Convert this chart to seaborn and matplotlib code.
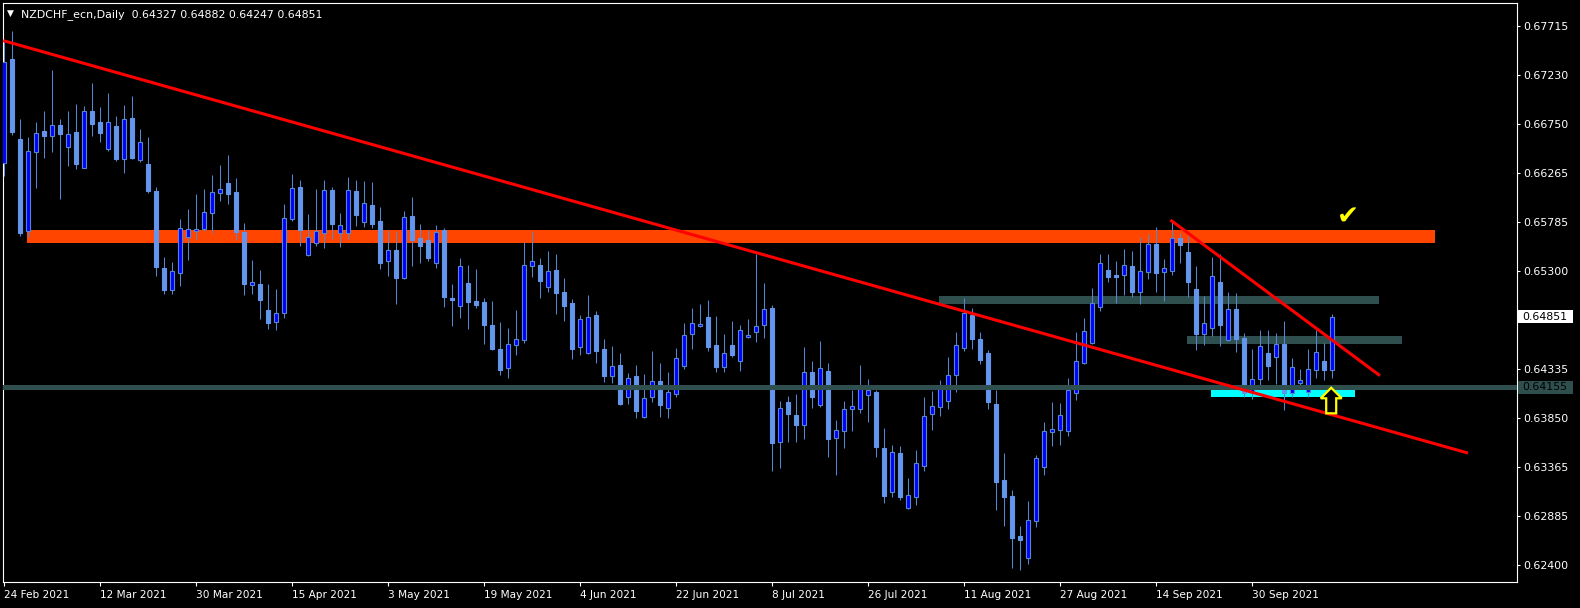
import numpy as np
import pandas as pd
import matplotlib
matplotlib.use("Agg")
import matplotlib.pyplot as plt
import matplotlib.transforms as mtransforms
from matplotlib.patches import Rectangle, Polygon
import seaborn as sns

# ---------------- data ----------------
symbol = "NZDCHF_ecn,Daily"

opens = [0.66363, 0.67388, 0.66603, 0.65698, 0.66477, 0.66681, 0.66635, 0.66738, 0.66527, 0.66671,
         0.66320, 0.66879, 0.66770, 0.66507, 0.66731, 0.66402, 0.66810, 0.66398, 0.66356, 0.66090,
         0.65331, 0.65117, 0.65284, 0.65633, 0.65698, 0.65718, 0.65876, 0.66073, 0.66169, 0.66080,
         0.65686, 0.65166, 0.65173, 0.64916, 0.64801, 0.64884, 0.65817, 0.66129, 0.65462, 0.65580,
         0.65679, 0.66100, 0.65679, 0.65673, 0.66090, 0.65787, 0.65952, 0.65794, 0.65403, 0.65508,
         0.65232, 0.65843, 0.65626, 0.65607, 0.65380, 0.65705, 0.65035, 0.64959, 0.65183, 0.65005,
         0.64995, 0.64769, 0.64532, 0.64345, 0.64574, 0.64621, 0.65350, 0.65360, 0.65140, 0.65311,
         0.65094, 0.64985, 0.64549, 0.64495, 0.64867, 0.64532, 0.64269, 0.64374, 0.64056, 0.64266,
         0.63858, 0.64056, 0.64216, 0.63947, 0.64091, 0.64367, 0.64677, 0.64762, 0.64844, 0.64568,
         0.64351, 0.64568, 0.64411, 0.64653, 0.64697, 0.64766, 0.64933, 0.63618, 0.64009, 0.63881,
         0.63785, 0.64305, 0.63983, 0.64315, 0.63657, 0.63726, 0.63943, 0.63943, 0.64081, 0.64108,
         0.63556, 0.63122, 0.63506, 0.62964, 0.63073, 0.63378, 0.63891, 0.63963, 0.64022, 0.64279,
         0.64545, 0.64867, 0.64630, 0.64492, 0.63990, 0.63240, 0.63082, 0.62688, 0.62471, 0.62836,
         0.63368, 0.63717, 0.63733, 0.63723, 0.64101, 0.64391, 0.64594, 0.64943, 0.65311, 0.65259,
         0.65259, 0.65350, 0.65097, 0.65294, 0.65567, 0.65288, 0.65304, 0.65626, 0.65488, 0.65123,
         0.64683, 0.64742, 0.65193, 0.64618, 0.64926, 0.64640, 0.64111, 0.64233, 0.64489, 0.64450,
         0.64581, 0.64095, 0.64194, 0.64105, 0.64322, 0.64411, 0.64327]

highs = [0.67559, 0.67667, 0.66800, 0.66625, 0.66770, 0.66879, 0.67283, 0.66800, 0.66879, 0.66948,
         0.66928, 0.67155, 0.66918, 0.67056, 0.66826, 0.66938, 0.67026, 0.66701, 0.66622, 0.66129,
         0.65439, 0.65390, 0.65814, 0.65912, 0.66060, 0.66109, 0.66248, 0.66346, 0.66445, 0.66218,
         0.65774, 0.65409, 0.65311, 0.65173, 0.65123, 0.65962, 0.66257, 0.66198, 0.65863, 0.66109,
         0.66198, 0.66129, 0.65873, 0.66228, 0.66198, 0.66188, 0.66178, 0.65932, 0.65702, 0.65692,
         0.65893, 0.66031, 0.65764, 0.65705, 0.65755, 0.65725, 0.65173, 0.65429, 0.65360, 0.65321,
         0.65035, 0.65005, 0.64798, 0.64739, 0.64916, 0.65587, 0.65695, 0.65429, 0.65498, 0.65469,
         0.65232, 0.65025, 0.64867, 0.65064, 0.64907, 0.64630, 0.64561, 0.64492, 0.64295, 0.64374,
         0.64286, 0.64512, 0.64394, 0.64305, 0.64542, 0.64788, 0.64936, 0.64976, 0.65015, 0.64857,
         0.64680, 0.64808, 0.64769, 0.64828, 0.65469, 0.65183, 0.64963, 0.64019, 0.64068, 0.64088,
         0.64552, 0.64414, 0.64611, 0.64394, 0.63832, 0.64019, 0.64128, 0.64374, 0.64236, 0.64128,
         0.63753, 0.63585, 0.63575, 0.63260, 0.63536, 0.64059, 0.64118, 0.64226, 0.64453, 0.64700,
         0.65035, 0.64936, 0.64700, 0.64522, 0.64128, 0.63506, 0.63142, 0.62787, 0.63033, 0.63487,
         0.63812, 0.64009, 0.63999, 0.64246, 0.64700, 0.64838, 0.65133, 0.65469, 0.65469, 0.65400,
         0.65518, 0.65498, 0.65636, 0.65666, 0.65735, 0.65419, 0.65794, 0.65676, 0.65646, 0.65350,
         0.65055, 0.65439, 0.65469, 0.65094, 0.65084, 0.64687, 0.64532, 0.64719, 0.64719, 0.64687,
         0.64808, 0.64446, 0.64335, 0.64532, 0.64719, 0.64588, 0.64882]

lows = [0.66238, 0.66642, 0.65646, 0.65639, 0.66122, 0.66418, 0.66477, 0.66011, 0.66339, 0.66310,
        0.66316, 0.66632, 0.66573, 0.66484, 0.66389, 0.66267, 0.66410, 0.66379, 0.66073, 0.65252,
        0.65074, 0.65074, 0.65153, 0.65409, 0.65616, 0.65698, 0.65673, 0.65991, 0.65965, 0.65607,
        0.65064, 0.65071, 0.64828, 0.64729, 0.64719, 0.64840, 0.65797, 0.65547, 0.65449, 0.65547,
        0.65528, 0.65614, 0.65538, 0.65616, 0.65745, 0.65735, 0.65725, 0.65321, 0.65252, 0.64976,
        0.65222, 0.65350, 0.65380, 0.65400, 0.65331, 0.64946, 0.64759, 0.64838, 0.64729, 0.64936,
        0.64581, 0.64522, 0.64276, 0.64246, 0.64473, 0.64591, 0.65242, 0.65035, 0.65094, 0.64877,
        0.64808, 0.64433, 0.64473, 0.64487, 0.64394, 0.64207, 0.64197, 0.63980, 0.63990, 0.63851,
        0.63851, 0.64009, 0.63861, 0.63851, 0.64062, 0.64338, 0.64535, 0.64752, 0.64515, 0.64308,
        0.64308, 0.64456, 0.64318, 0.64643, 0.64604, 0.64643, 0.63332, 0.63362, 0.63618, 0.63618,
        0.63645, 0.63950, 0.63960, 0.63467, 0.63290, 0.63556, 0.63723, 0.63901, 0.63812, 0.63467,
        0.63013, 0.63073, 0.63043, 0.62954, 0.62994, 0.63329, 0.63733, 0.63871, 0.63940, 0.64108,
        0.64515, 0.64532, 0.64384, 0.63940, 0.62944, 0.62787, 0.62372, 0.62353, 0.62412, 0.62777,
        0.63290, 0.63575, 0.63585, 0.63674, 0.64029, 0.64384, 0.64581, 0.64910, 0.65193, 0.64985,
        0.65064, 0.65045, 0.64976, 0.65222, 0.65094, 0.65005, 0.65262, 0.65380, 0.65045, 0.64522,
        0.64571, 0.64660, 0.64561, 0.64611, 0.64502, 0.64062, 0.64036, 0.64160, 0.64226, 0.64187,
        0.63930, 0.64062, 0.64177, 0.64056, 0.64243, 0.64226, 0.64247]

closes = [0.67365, 0.66674, 0.65679, 0.66481, 0.66659, 0.66635, 0.66738, 0.66655, 0.66649, 0.66356,
          0.66876, 0.66753, 0.66665, 0.66767, 0.66405, 0.66797, 0.66418, 0.66570, 0.66090, 0.65343,
          0.65117, 0.65301, 0.65722, 0.65712, 0.65718, 0.65880, 0.66077, 0.66107, 0.66063, 0.65686,
          0.65173, 0.65190, 0.65015, 0.64791, 0.64884, 0.65821, 0.66116, 0.65705, 0.65633, 0.65692,
          0.66097, 0.65764, 0.65752, 0.66097, 0.65853, 0.65969, 0.65764, 0.65380, 0.65508, 0.65232,
          0.65830, 0.65607, 0.65547, 0.65429, 0.65683, 0.65045, 0.65018, 0.65347, 0.64995, 0.64966,
          0.64769, 0.64532, 0.64325, 0.64581, 0.64630, 0.65360, 0.65400, 0.65205, 0.65298, 0.65087,
          0.64959, 0.64535, 0.64825, 0.64844, 0.64515, 0.64269, 0.64361, 0.63990, 0.64246, 0.63921,
          0.64046, 0.64213, 0.63980, 0.64105, 0.64440, 0.64667, 0.64785, 0.64775, 0.64555, 0.64357,
          0.64489, 0.64473, 0.64716, 0.64670, 0.64756, 0.64923, 0.63608, 0.63947, 0.63894, 0.63785,
          0.64302, 0.64059, 0.64345, 0.63645, 0.63733, 0.63940, 0.63970, 0.64144, 0.64125, 0.63566,
          0.63082, 0.63513, 0.63073, 0.63089, 0.63405, 0.63868, 0.63970, 0.64147, 0.64276, 0.64571,
          0.64890, 0.64630, 0.64423, 0.64009, 0.63220, 0.63073, 0.62668, 0.62649, 0.62846, 0.63457,
          0.63723, 0.63743, 0.63881, 0.64128, 0.64411, 0.64706, 0.64982, 0.65377, 0.65245, 0.65245,
          0.65357, 0.65094, 0.65298, 0.65567, 0.65284, 0.65328, 0.65626, 0.65557, 0.65193, 0.64680,
          0.64785, 0.65249, 0.64769, 0.64923, 0.64633, 0.64101, 0.64239, 0.64564, 0.64367, 0.64578,
          0.64095, 0.64357, 0.64223, 0.64338, 0.64499, 0.64327, 0.64851]

date_tick_bars = [0, 12, 24, 36, 48, 60, 72, 84, 96, 108, 120, 132, 144, 156]
date_tick_labels = ["24 Feb 2021", "12 Mar 2021", "30 Mar 2021", "15 Apr 2021", "3 May 2021",
                    "19 May 2021", "4 Jun 2021", "22 Jun 2021", "8 Jul 2021", "26 Jul 2021",
                    "11 Aug 2021", "27 Aug 2021", "14 Sep 2021", "30 Sep 2021"]
price_ticks = [0.67715, 0.67230, 0.66750, 0.66265, 0.65785, 0.65300,
               0.64335, 0.63850, 0.63365, 0.62885, 0.62400]

# chart objects (bar index / price anchors)
trend_long = ([-0.09, 183.0], [0.67572, 0.63506])
trend_short = ([145.8, 172.0], [0.65804, 0.64269])
zone_orange = (2.875, 178.9, 0.65580, 0.65705)
zone_upper = (116.9, 171.9, 0.64979, 0.65055)
zone_lower = (147.9, 174.8, 0.64581, 0.64660)
zone_cyan = (150.9, 168.9, 0.64062, 0.64128)
support_level = 0.64155
arrow_anchor = (165.9, 0.64150)
check_anchor = (168.0, 0.65829)

# ---------------- style ----------------
sns.set_theme(style="dark", rc={"axes.facecolor": "black", "figure.facecolor": "black",
                                "axes.edgecolor": "white", "text.color": "white",
                                "xtick.color": "white", "ytick.color": "white"})
plt.rcParams["font.family"] = ["DejaVu Sans"]

BULL = "#0000FF"
BEAR = "#6495ED"
WICK = "#5487CF"

fig = plt.figure(figsize=(15.8, 6.08), dpi=100, facecolor="black")
W, H = 1580, 608
ax = fig.add_axes([2.5 / W, (H - 582) / H, (1517 - 2.5) / W, (582 - 2.5) / H])
ax.set_facecolor("black")
ax.grid(False)

df = pd.DataFrame({"o": opens, "h": highs, "l": lows, "c": closes})
df["x"] = np.arange(len(df))
df["bull"] = df["c"] >= df["o"]

# background zones
for (x0, x1, y0, y1), col in [(zone_orange, "#FF4500"), (zone_upper, "#2F4F4F"),
                              (zone_lower, "#2F4F4F"), (zone_cyan, "#00FFFF")]:
    ax.add_patch(Rectangle((x0, y0), x1 - x0, y1 - y0, facecolor=col, edgecolor="none", zorder=1))

# candles
ax.vlines(df["x"], df["l"], df["h"], color=WICK, linewidth=0.75, zorder=2)
body_bottom = np.minimum(df["o"], df["c"])
body_height = np.abs(df["c"] - df["o"])
ax.bar(df["x"], body_height, bottom=body_bottom, width=0.5,
       color=np.where(df["bull"], BULL, BEAR),
       edgecolor=np.where(df["bull"], WICK, BEAR), linewidth=0.8, zorder=3)

# support line
ax.axhline(support_level, color="#2F4F4F", linewidth=3.6, zorder=4)

# trend lines (seaborn)
for xs, ys in (trend_long, trend_short):
    sns.lineplot(x=xs, y=ys, ax=ax, color="#FF0000", linewidth=2.2, zorder=5,
                 legend=False, solid_capstyle="butt")

# yellow hollow up arrow
ax_, ay_ = arrow_anchor
head_w, shaft_w = 1.31, 0.625
base_y, bottom_y = ay_ - 0.00104, ay_ - 0.00252
arrow = Polygon([(ax_ - shaft_w, bottom_y), (ax_ - shaft_w, base_y), (ax_ - head_w, base_y),
                 (ax_, ay_), (ax_ + head_w, base_y), (ax_ + shaft_w, base_y),
                 (ax_ + shaft_w, bottom_y)], closed=True, facecolor="black",
                edgecolor="#FFFF00", linewidth=1.6, zorder=6)
ax.add_patch(arrow)

# yellow check mark
ax.text(check_anchor[0], check_anchor[1], "\u2714", color="#FFFF00", fontsize=19,
        ha="center", va="center", zorder=6)

# limits
ax.set_xlim(-0.1875, 189.125)
ax.set_ylim(0.62235, 0.67948)

# axes ticks
ax.set_xticks(date_tick_bars)
ax.set_xticklabels(date_tick_labels, ha="left")
ax.yaxis.tick_right()
ax.set_yticks(price_ticks)
ax.set_yticklabels([f"{p:.5f}" for p in price_ticks])
ax.tick_params(axis="x", bottom=True, length=3, width=0.8, pad=2.5, labelsize=7.6,
               colors="white")
ax.tick_params(axis="y", right=True, left=False, length=2, width=0.8, pad=2.5,
               labelsize=7.9, colors="white")
for s in ax.spines.values():
    s.set_color("white")
    s.set_linewidth(0.8)
ax.set_xlabel("")
ax.set_ylabel("")

# price tags on the right scale
ident = mtransforms.IdentityTransform()
x_right = ax.transAxes.transform((1, 0))[0]
for price, fc, tc in [(closes[-1], "white", "black"), (support_level, "#2F4F4F", "black")]:
    yd = ax.transData.transform((0, price))[1]
    fig.add_artist(Rectangle((x_right + 1, yd - 6.5), 55, 13, transform=ident,
                             facecolor=fc, edgecolor="none", zorder=10))
    fig.text(x_right + 5.5, yd, f"{price:.5f}", transform=ident, color=tc,
             fontsize=7.9, va="center", ha="left", zorder=11)

# header text
fig.text(7 / W, 1 - 15.5 / H, "\u25BC", color="white", fontsize=6.5, va="baseline", ha="left")
header = f"{symbol}  {opens[-1]:.5f} {highs[-1]:.5f} {lows[-1]:.5f} {closes[-1]:.5f}"
fig.text(21 / W, 1 - 16.7 / H, header, color="white", fontsize=7.9, va="baseline", ha="left")

fig.savefig("out.png", dpi=100, facecolor="black")
